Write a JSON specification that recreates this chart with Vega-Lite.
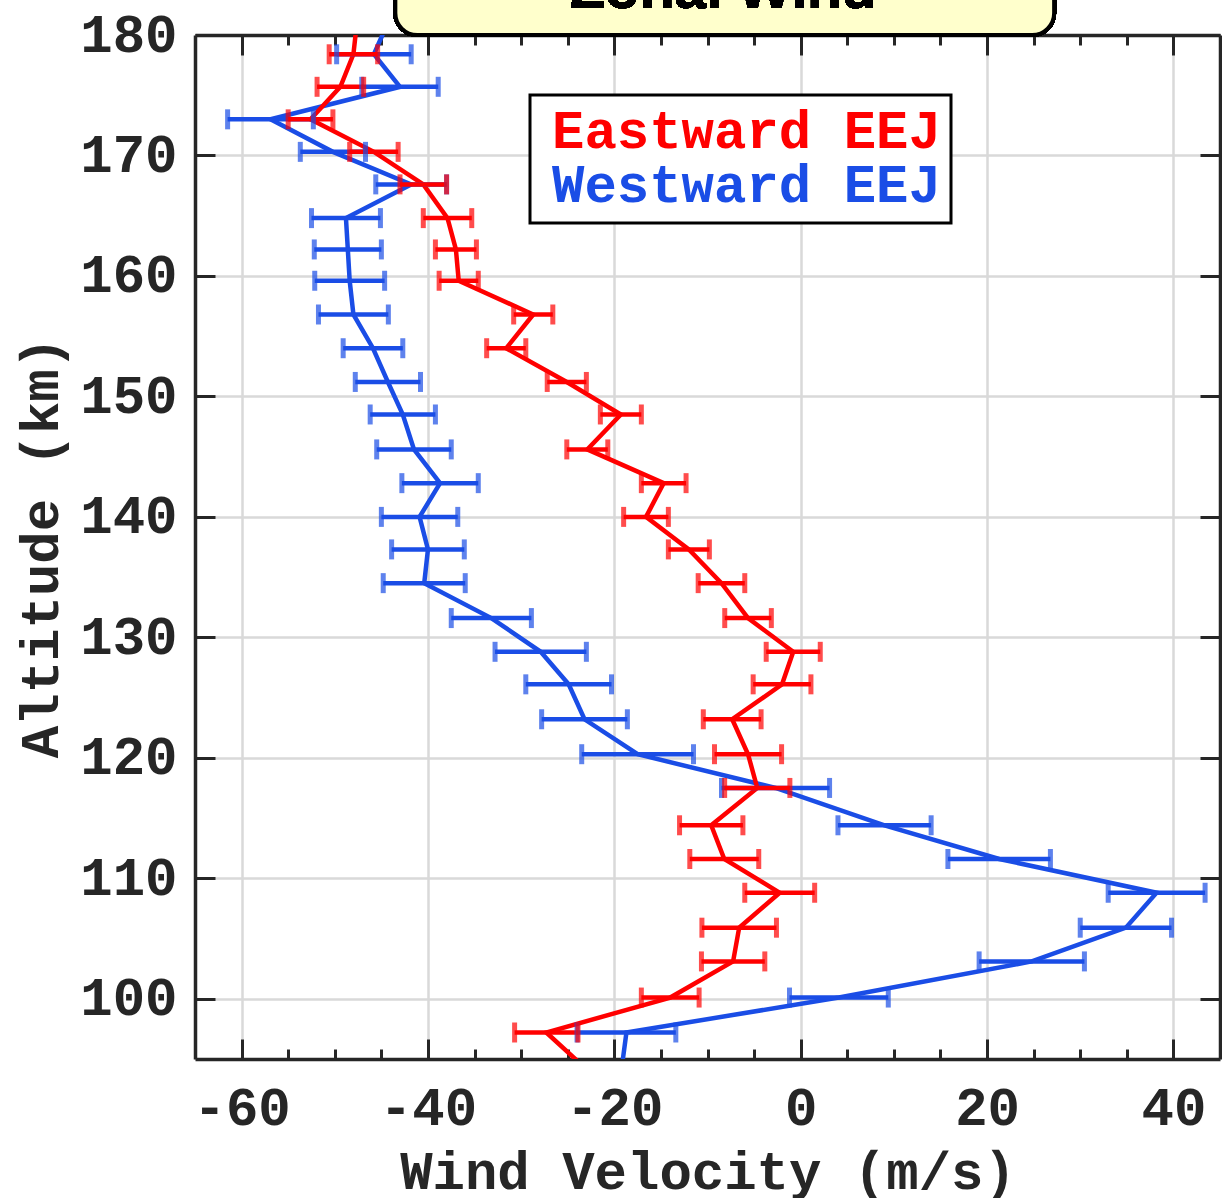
{
  "$schema": "https://vega.github.io/schema/vega-lite/v6.json",
  "width": 1025,
  "height": 1024,
  "autosize": {"type": "none"},
  "padding": {"left": 195, "top": 35, "right": 2, "bottom": 139},
  "background": "white",
  "datasets": {
    "wind": [
      {"series": "Westward EEJ", "alt": 181.2, "v": -44.2},
      {"series": "Westward EEJ", "alt": 178.4, "v": -45.8, "lo": -49.8, "hi": -41.8},
      {"series": "Westward EEJ", "alt": 175.7, "v": -43.0, "lo": -47.1, "hi": -38.9},
      {"series": "Westward EEJ", "alt": 173.0, "v": -56.9, "lo": -61.5, "hi": -52.3},
      {"series": "Westward EEJ", "alt": 170.3, "v": -50.2, "lo": -53.7, "hi": -46.7},
      {"series": "Westward EEJ", "alt": 167.6, "v": -41.8, "lo": -45.6, "hi": -38.0},
      {"series": "Westward EEJ", "alt": 164.8, "v": -48.8, "lo": -52.5, "hi": -45.1},
      {"series": "Westward EEJ", "alt": 162.2, "v": -48.6, "lo": -52.2, "hi": -45.0},
      {"series": "Westward EEJ", "alt": 159.6, "v": -48.4, "lo": -52.15, "hi": -44.65},
      {"series": "Westward EEJ", "alt": 156.8, "v": -48.0, "lo": -51.75, "hi": -44.25},
      {"series": "Westward EEJ", "alt": 154.0, "v": -45.9, "lo": -49.1, "hi": -42.7},
      {"series": "Westward EEJ", "alt": 151.2, "v": -44.3, "lo": -47.8, "hi": -40.8},
      {"series": "Westward EEJ", "alt": 148.5, "v": -42.7, "lo": -46.2, "hi": -39.2},
      {"series": "Westward EEJ", "alt": 145.6, "v": -41.5, "lo": -45.5, "hi": -37.5},
      {"series": "Westward EEJ", "alt": 142.8, "v": -38.7, "lo": -42.8, "hi": -34.6},
      {"series": "Westward EEJ", "alt": 140.0, "v": -40.9, "lo": -45.0, "hi": -36.8},
      {"series": "Westward EEJ", "alt": 137.3, "v": -40.0, "lo": -43.9, "hi": -36.1},
      {"series": "Westward EEJ", "alt": 134.5, "v": -40.4, "lo": -44.8, "hi": -36.0},
      {"series": "Westward EEJ", "alt": 131.6, "v": -33.2, "lo": -37.5, "hi": -28.9},
      {"series": "Westward EEJ", "alt": 128.8, "v": -27.9, "lo": -32.8, "hi": -23.0},
      {"series": "Westward EEJ", "alt": 126.1, "v": -24.9, "lo": -29.5, "hi": -20.3},
      {"series": "Westward EEJ", "alt": 123.2, "v": -23.2, "lo": -27.8, "hi": -18.6},
      {"series": "Westward EEJ", "alt": 120.3, "v": -17.5, "lo": -23.5, "hi": -11.5},
      {"series": "Westward EEJ", "alt": 117.5, "v": -2.7, "lo": -8.5, "hi": 3.1},
      {"series": "Westward EEJ", "alt": 114.4, "v": 9.0, "lo": 4.0, "hi": 14.0},
      {"series": "Westward EEJ", "alt": 111.6, "v": 21.3, "lo": 15.8, "hi": 26.8},
      {"series": "Westward EEJ", "alt": 108.8, "v": 38.2, "lo": 33.0, "hi": 43.4},
      {"series": "Westward EEJ", "alt": 105.9, "v": 34.9, "lo": 30.0, "hi": 39.8},
      {"series": "Westward EEJ", "alt": 103.1, "v": 24.8, "lo": 19.15, "hi": 30.45},
      {"series": "Westward EEJ", "alt": 100.1, "v": 4.1, "lo": -1.2, "hi": 9.4},
      {"series": "Westward EEJ", "alt": 97.2, "v": -18.7, "lo": -24.0, "hi": -13.4},
      {"series": "Westward EEJ", "alt": 94.3, "v": -19.2},
      {"series": "Eastward EEJ", "alt": 181.2, "v": -47.6},
      {"series": "Eastward EEJ", "alt": 178.4, "v": -48.0, "lo": -50.6, "hi": -45.4},
      {"series": "Eastward EEJ", "alt": 175.7, "v": -49.4, "lo": -51.9, "hi": -46.9},
      {"series": "Eastward EEJ", "alt": 173.0, "v": -52.6, "lo": -55.0, "hi": -50.2},
      {"series": "Eastward EEJ", "alt": 170.3, "v": -45.8, "lo": -48.4, "hi": -43.2},
      {"series": "Eastward EEJ", "alt": 167.6, "v": -40.5, "lo": -43.0, "hi": -38.0},
      {"series": "Eastward EEJ", "alt": 164.8, "v": -37.9, "lo": -40.5, "hi": -35.3},
      {"series": "Eastward EEJ", "alt": 162.2, "v": -37.0, "lo": -39.2, "hi": -34.8},
      {"series": "Eastward EEJ", "alt": 159.6, "v": -36.7, "lo": -38.8, "hi": -34.6},
      {"series": "Eastward EEJ", "alt": 156.8, "v": -28.7, "lo": -30.8, "hi": -26.6},
      {"series": "Eastward EEJ", "alt": 154.0, "v": -31.6, "lo": -33.7, "hi": -29.5},
      {"series": "Eastward EEJ", "alt": 151.2, "v": -25.1, "lo": -27.2, "hi": -23.0},
      {"series": "Eastward EEJ", "alt": 148.5, "v": -19.3, "lo": -21.5, "hi": -17.1},
      {"series": "Eastward EEJ", "alt": 145.6, "v": -22.9, "lo": -25.1, "hi": -20.7},
      {"series": "Eastward EEJ", "alt": 142.8, "v": -14.7, "lo": -17.1, "hi": -12.3},
      {"series": "Eastward EEJ", "alt": 140.0, "v": -16.6, "lo": -19.0, "hi": -14.2},
      {"series": "Eastward EEJ", "alt": 137.3, "v": -12.0, "lo": -14.2, "hi": -9.8},
      {"series": "Eastward EEJ", "alt": 134.5, "v": -8.5, "lo": -11.0, "hi": -6.0},
      {"series": "Eastward EEJ", "alt": 131.6, "v": -5.65, "lo": -8.15, "hi": -3.15},
      {"series": "Eastward EEJ", "alt": 128.8, "v": -0.8, "lo": -3.7, "hi": 2.1},
      {"series": "Eastward EEJ", "alt": 126.1, "v": -2.0, "lo": -5.1, "hi": 1.1},
      {"series": "Eastward EEJ", "alt": 123.2, "v": -7.35, "lo": -10.45, "hi": -4.25},
      {"series": "Eastward EEJ", "alt": 120.3, "v": -5.65, "lo": -9.25, "hi": -2.05},
      {"series": "Eastward EEJ", "alt": 117.5, "v": -4.66, "lo": -8.16, "hi": -1.16},
      {"series": "Eastward EEJ", "alt": 114.4, "v": -9.6, "lo": -13.0, "hi": -6.2},
      {"series": "Eastward EEJ", "alt": 111.6, "v": -8.2, "lo": -11.9, "hi": -4.5},
      {"series": "Eastward EEJ", "alt": 108.8, "v": -2.25, "lo": -6.0, "hi": 1.5},
      {"series": "Eastward EEJ", "alt": 105.9, "v": -6.6, "lo": -10.6, "hi": -2.6},
      {"series": "Eastward EEJ", "alt": 103.1, "v": -7.25, "lo": -10.65, "hi": -3.85},
      {"series": "Eastward EEJ", "alt": 100.1, "v": -14.0, "lo": -17.1, "hi": -10.9},
      {"series": "Eastward EEJ", "alt": 97.2, "v": -27.3, "lo": -30.7, "hi": -23.9},
      {"series": "Eastward EEJ", "alt": 94.3, "v": -23.2}
    ]
  },
  "data": {"name": "wind"},
  "config": {
    "view": {"stroke": null},
    "axis": {
      "domainColor": "#262626",
      "domainWidth": 3.5,
      "tickColor": "#262626",
      "tickWidth": 3,
      "gridColor": "#d9d9d9",
      "gridWidth": 2.5,
      "labelFont": "Liberation Mono",
      "labelFontWeight": "bold",
      "labelFontSize": 54,
      "labelColor": "#262626",
      "labelOverlap": false,
      "labelFlush": false,
      "titleFont": "Liberation Mono",
      "titleFontWeight": "bold",
      "titleFontSize": 54,
      "titleColor": "#262626"
    },
    "legend": {"strokeWidth": 3}
  },
  "resolve": {"axis": {"x": "independent", "y": "independent"}},
  "layer": [
    {
      "mark": {"type": "line", "strokeWidth": 4.5, "clip": true},
      "encoding": {
        "x": {
          "field": "v", "type": "quantitative",
          "scale": {"domain": [-65, 45], "nice": false, "zero": false},
          "axis": {
            "orient": "bottom",
            "values": [-60, -40, -20, 0, 20, 40],
            "labelExpr": "'' + datum.value",
            "grid": true,
            "tickSize": -20,
            "labelPadding": 42,
            "title": "Wind Velocity (m/s)",
            "titlePadding": 10
          }
        },
        "y": {
          "field": "alt", "type": "quantitative",
          "scale": {"domain": [95, 180], "nice": false, "zero": false},
          "axis": {
            "orient": "left",
            "values": [100, 110, 120, 130, 140, 150, 160, 170, 180],
            "grid": true,
            "tickSize": -20,
            "labelPadding": 38,
            "title": "Altitude (km)",
            "titlePadding": 11
          }
        },
        "color": {
          "field": "series", "type": "nominal",
          "scale": {"domain": ["Eastward EEJ", "Westward EEJ"], "range": ["#ff0000", "#1a4de6"]},
          "legend": {
            "orient": "none",
            "legendX": 335,
            "legendY": 60,
            "title": null,
            "fillColor": "white",
            "strokeColor": "black",
            "padding": 10,
            "symbolType": "square",
            "symbolSize": 1,
            "symbolOpacity": 0,
            "symbolStrokeWidth": 0,
            "labelOffset": -42,
            "labelAlign": "left",
            "labelFont": "Liberation Mono",
            "labelFontWeight": "bold",
            "labelFontSize": 54,
            "labelLimit": 1000,
            "rowPadding": 0,
            "labelColor": {"expr": "datum.value === 'Eastward EEJ' ? '#ff0000' : '#1a4de6'"}
          }
        },
        "order": {"field": "alt", "type": "quantitative"}
      }
    },
    {
      "mark": {"type": "rule", "strokeWidth": 4.5, "clip": true},
      "encoding": {
        "x": {
          "field": "lo", "type": "quantitative",
          "axis": {
            "orient": "top",
            "values": [-60, -40, -20, 0, 20, 40],
            "labels": false,
            "grid": false,
            "tickSize": -20,
            "title": null
          }
        },
        "x2": {"field": "hi"},
        "y": {
          "field": "alt", "type": "quantitative",
          "axis": {
            "orient": "right",
            "values": [100, 110, 120, 130, 140, 150, 160, 170, 180],
            "labels": false,
            "grid": false,
            "tickSize": -20,
            "title": null
          }
        },
        "color": {"field": "series", "type": "nominal", "legend": null}
      }
    },
    {
      "mark": {"type": "tick", "orient": "vertical", "size": 20, "thickness": 5, "clip": true},
      "encoding": {
        "x": {
          "field": "lo", "type": "quantitative",
          "axis": {
            "orient": "bottom",
            "values": [-55, -50, -45, -35, -30, -25, -15, -10, -5, 5, 10, 15, 25, 30, 35],
            "labels": false,
            "grid": false,
            "domain": false,
            "tickSize": -10,
            "title": null
          }
        },
        "y": {"field": "alt", "type": "quantitative", "axis": null},
        "color": {"field": "series", "type": "nominal", "legend": null}
      }
    },
    {
      "mark": {"type": "tick", "orient": "vertical", "size": 20, "thickness": 5, "clip": true},
      "encoding": {
        "x": {
          "field": "hi", "type": "quantitative",
          "axis": {
            "orient": "top",
            "values": [-55, -50, -45, -35, -30, -25, -15, -10, -5, 5, 10, 15, 25, 30, 35],
            "labels": false,
            "grid": false,
            "domain": false,
            "tickSize": -10,
            "title": null
          }
        },
        "y": {"field": "alt", "type": "quantitative", "axis": null},
        "color": {"field": "series", "type": "nominal", "legend": null}
      }
    },
    {
      "mark": {"type": "rect", "clip": false, "cornerRadius": 22, "fill": "#ffffcc", "stroke": "black", "strokeWidth": 4},
      "encoding": {
        "x": {"datum": -43.5, "axis": null},
        "x2": {"datum": 27.2},
        "y": {"datum": 180, "axis": null},
        "y2": {"datum": 190}
      }
    },
    {
      "mark": {"type": "text", "clip": false, "text": "Zonal Wind", "font": "Liberation Sans", "fontWeight": "bold", "fontSize": 57, "align": "center", "baseline": "alphabetic", "color": "black"},
      "encoding": {
        "x": {"datum": -8.3, "axis": null},
        "y": {"datum": 182.2, "axis": null}
      }
    }
  ]
}
